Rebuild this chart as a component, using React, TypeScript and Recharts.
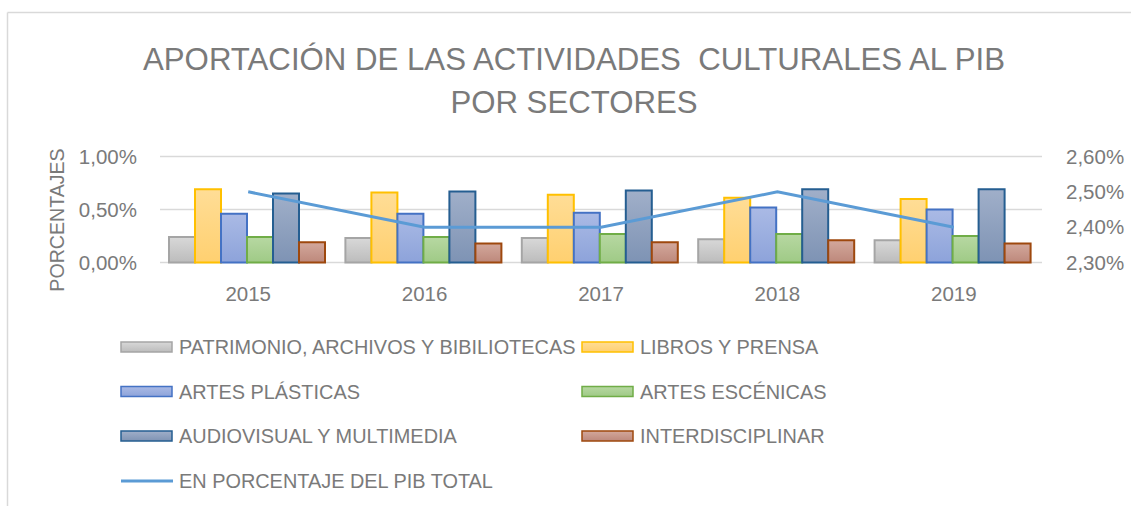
import React from 'react';
import { ComposedChart, Bar, Line, XAxis, YAxis, CartesianGrid } from 'recharts';

const years = ['2015', '2016', '2017', '2018', '2019'];
const patrimonio = [0.24, 0.23, 0.23, 0.22, 0.21];
const libros = [0.69, 0.66, 0.64, 0.61, 0.60];
const artesPlasticas = [0.46, 0.46, 0.47, 0.52, 0.50];
const artesEscenicas = [0.24, 0.24, 0.27, 0.27, 0.25];
const audiovisual = [0.65, 0.67, 0.68, 0.69, 0.69];
const interdisciplinar = [0.19, 0.18, 0.19, 0.21, 0.18];
const pibTotal = [2.5, 2.4, 2.4, 2.5, 2.4];

const leftTicks = [0, 0.5, 1];
const rightTicks = [2.3, 2.4, 2.5, 2.6];

const titleLines = ['APORTACIÓN DE LAS ACTIVIDADES  CULTURALES AL PIB', 'POR SECTORES'];
const yTitle = 'PORCENTAJES';

const barSeries = [
  { key: 'patrimonio', name: 'PATRIMONIO, ARCHIVOS Y BIBILIOTECAS', values: patrimonio, stroke: '#A5A5A5', top: '#D8D8D8', bottom: '#BCBCBC' },
  { key: 'libros', name: 'LIBROS Y PRENSA', values: libros, stroke: '#FFC000', top: '#FFDD96', bottom: '#FFD070' },
  { key: 'plasticas', name: 'ARTES PLÁSTICAS', values: artesPlasticas, stroke: '#4472C4', top: '#AABAE5', bottom: '#8DA3DA' },
  { key: 'escenicas', name: 'ARTES ESCÉNICAS', values: artesEscenicas, stroke: '#70AD47', top: '#B7D8A2', bottom: '#9FCA86' },
  { key: 'audiovisual', name: 'AUDIOVISUAL Y MULTIMEDIA', values: audiovisual, stroke: '#255E91', top: '#A0AFC9', bottom: '#7E93B4' },
  { key: 'interdisciplinar', name: 'INTERDISCIPLINAR', values: interdisciplinar, stroke: '#9E480E', top: '#D3A89C', bottom: '#BD887B' },
];
const lineSeries = { key: 'pib', name: 'EN PORCENTAJE DEL PIB TOTAL', values: pibTotal, stroke: '#5B9BD5' };

const data = years.map((y, i) => {
  const row: Record<string, string | number> = { year: y, pib: pibTotal[i] };
  barSeries.forEach((s) => { row[s.key] = s.values[i]; });
  return row;
});

const fmt = (v: number) => v.toFixed(2).replace('.', ',') + '%';

const FONT = "'Liberation Sans', Arial, sans-serif";
const TXT = '#7A7A7A';
const tickStyle = { fontSize: 20.5, fill: TXT, fontFamily: FONT };
const LEG_FS = 19.9;

export default function App() {
  const legendRows = [
    [barSeries[0], barSeries[1]],
    [barSeries[2], barSeries[3]],
    [barSeries[4], barSeries[5]],
  ];
  const rowY = [347, 391.5, 436, 481];
  const colX = [121, 582];
  return (
    <div style={{ position: 'absolute', left: 0, top: 0, width: 1131, height: 506, background: '#fff', fontFamily: FONT }}>
      <ComposedChart
        width={1131}
        height={506}
        data={data}
        margin={{ top: 156.5, right: 0, bottom: 0, left: 0 }}
        barCategoryGap={9}
        barGap={0}
      >
        <defs>
          {barSeries.map((s) => (
            <linearGradient key={s.key} id={'g-' + s.key} x1="0" y1="0" x2="0" y2="1">
              <stop offset="0%" stopColor={s.top} />
              <stop offset="100%" stopColor={s.bottom} />
            </linearGradient>
          ))}
        </defs>
        <CartesianGrid yAxisId="left" vertical={false} stroke="#D9D9D9" strokeWidth={1.5} />
        <XAxis
          dataKey="year"
          axisLine={false}
          tickLine={false}
          tickSize={0}
          tickMargin={24}
          height={243.5}
          tick={tickStyle}
          interval={0}
        />
        <YAxis
          yAxisId="left"
          domain={[0, 1]}
          ticks={leftTicks}
          tickFormatter={fmt}
          axisLine={false}
          tickLine={false}
          tickSize={0}
          tickMargin={23}
          width={160}
          tick={tickStyle}
          interval={0}
        />
        <YAxis
          yAxisId="right"
          orientation="right"
          domain={[2.3, 2.6]}
          ticks={rightTicks}
          tickFormatter={fmt}
          axisLine={false}
          tickLine={false}
          tickSize={0}
          tickMargin={24}
          width={89}
          tick={{ ...tickStyle, textAnchor: 'start' }}
          interval={0}
          allowDataOverflow
        />
        {barSeries.map((s) => (
          <Bar
            key={s.key}
            yAxisId="left"
            dataKey={s.key}
            name={s.name}
            fill={`url(#g-${s.key})`}
            stroke={s.stroke}
            strokeWidth={2}
            isAnimationActive={false}
          />
        ))}
        <Line
          yAxisId="right"
          dataKey={lineSeries.key}
          name={lineSeries.name}
          stroke={lineSeries.stroke}
          strokeWidth={3}
          dot={false}
          type="linear"
          isAnimationActive={false}
        />
      </ComposedChart>
      <svg width={1131} height={506} style={{ position: 'absolute', left: 0, top: 0, pointerEvents: 'none' }}>
        <defs>
          {barSeries.map((s) => (
            <linearGradient key={s.key} id={'lg-' + s.key} x1="0" y1="0" x2="0" y2="1">
              <stop offset="0%" stopColor={s.top} />
              <stop offset="100%" stopColor={s.bottom} />
            </linearGradient>
          ))}
        </defs>
        <line x1={7.5} y1={12.5} x2={1131} y2={12.5} stroke="#D9D9D9" strokeWidth={1.5} />
        <line x1={7.5} y1={12.5} x2={7.5} y2={506} stroke="#D9D9D9" strokeWidth={1.5} />
        <text x={574} y={69.5} textAnchor="middle" fontSize={31.2} fill={TXT} fontFamily={FONT} style={{ whiteSpace: 'pre' }} xmlSpace="preserve">
          {titleLines[0]}
        </text>
        <text x={574} y={112.5} textAnchor="middle" fontSize={31.2} fill={TXT} fontFamily={FONT}>
          {titleLines[1]}
        </text>
        <text
          x={0}
          y={0}
          transform={`translate(64, 220) rotate(-90)`}
          textAnchor="middle"
          fontSize={19.6}
          fill={TXT}
          fontFamily={FONT}
        >
          {yTitle}
        </text>
        {legendRows.map((row, ri) =>
          row.map((s, ci) => (
            <g key={s.key}>
              <rect
                x={colX[ci]}
                y={rowY[ri] - 5}
                width={51}
                height={10}
                fill={`url(#lg-${s.key})`}
                stroke={s.stroke}
                strokeWidth={1.5}
              />
              <text x={colX[ci] + 58} y={rowY[ri] + 7} fontSize={LEG_FS} fill={TXT} fontFamily={FONT}>
                {s.name}
              </text>
            </g>
          ))
        )}
        <line x1={colX[0]} y1={rowY[3]} x2={colX[0] + 52} y2={rowY[3]} stroke={lineSeries.stroke} strokeWidth={3} />
        <text x={colX[0] + 58} y={rowY[3] + 7} fontSize={LEG_FS} fill={TXT} fontFamily={FONT}>
          {lineSeries.name}
        </text>
      </svg>
    </div>
  );
}
